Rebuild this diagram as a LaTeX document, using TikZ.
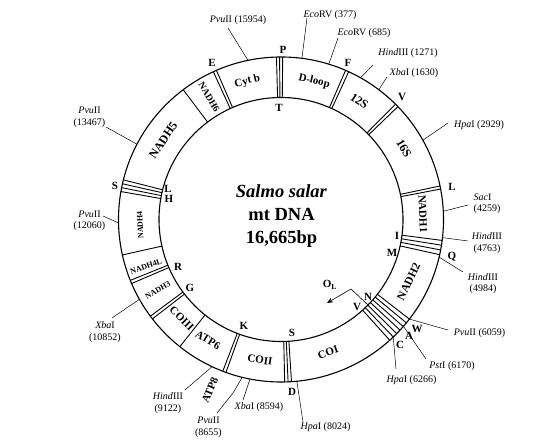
\documentclass[tikz,border=0pt]{standalone}
\usepackage{fontspec}
\setmainfont{Liberation Serif}
\usetikzlibrary{arrows.meta}

\begin{document}
\begin{tikzpicture}[x=1pt,y=1pt,>=Stealth,
  ring/.style={line width=1.1pt},
  bar/.style={line width=0.9pt},
  leader/.style={line width=0.5pt},
  gene/.style={font=\fontsize{11}{12}\selectfont\bfseries,inner sep=0pt},
  biggene/.style={font=\fontsize{12}{13}\selectfont\bfseries,inner sep=0pt},
  smallgene/.style={font=\fontsize{8}{9}\selectfont\bfseries,inner sep=0pt},
  trna/.style={font=\fontsize{11}{12}\selectfont\bfseries,inner sep=0pt},
  site/.style={font=\fontsize{10}{11.5}\selectfont,inner sep=0pt,align=center}]

\useasboundingbox (-281,-226.5) rectangle (275,219.5);
\def\rin{122}
\def\rout{162.5}
\coordinate (O) at (0,0);
\draw[ring] (O) circle[radius=\rout];
\draw[ring] (O) circle[radius=\rin];

\foreach \a in {89.4,90.5,91.6, 113.4,114.6, 127, 165.9,167.3,168.7,170.1, 192.6, 202,203.2, 216.5,217.7, 231.5, 249,250.2, 271.3,272.5,273.7, 312,313.7,315.4,317.1,318.8,320.5,322.2, 347.5,349.2,350.9,352.6, 10.8,11.9, 44,45.2, 65.4,66.6}
  \draw[bar] (\a:\rin) -- (\a:\rout);

\node[gene,rotate=13.7] (cytb) at (103.7:142) {Cyt b};
\node[gene,rotate=-13.5] (dloop) at (76.5:142) {D-loop};
\node[gene,font=\fontsize{9.5}{10}\selectfont\bfseries,rotate=-59.6] (nadh6) at (120.4:142) {NADH6};
\node[biggene,rotate=-33.5] (s12) at (56.5:142) {12S};
\node[biggene,rotate=-60] (s16) at (30:142) {16S};
\node[gene,rotate=-87.4] (nadh1) at (2.3:142) {NADH1};
\node[gene,font=\fontsize{11.5}{12}\selectfont\bfseries,rotate=64] (nadh2) at (334:142) {NADH2};
\node[gene,rotate=19.5] (coi) at (289.5:141) {COI};
\node[gene,rotate=-8.5] (coii) at (261.5:142) {COII};
\node[gene,rotate=-31.2] (atp6) at (238.8:141) {ATP6};
\node[gene,rotate=67.4] (atp8) at (247.4:185) {ATP8};
\node[gene,rotate=-45] (coiii) at (224.9:140) {COIII};
\node[smallgene,rotate=29.8] (nadh3) at (209.8:142) {NADH3};
\node[smallgene,rotate=19.3] (nadh4l) at (199.3:143) {NADH4L};
\node[smallgene,rotate=92.2] (nadh4) at (182.2:141) {NADH4};
\node[biggene,rotate=56] (nadh5) at (146:142) {NADH5};

\node[trna] (tp) at (2,169.5) {P};
\node[trna] (tt) at (-2,111.5) {T};
\node[trna] (te) at (-69,156.5) {E};
\node[trna] (tf) at (67,156.5) {F};
\node[trna] (tv) at (121,122.5) {V};
\node[trna] (tl) at (171,32.5) {L};
\node[trna] (ti) at (116,-16.5) {I};
\node[trna] (tm) at (111,-33.5) {M};
\node[trna] (tq) at (171,-37.5) {Q};
\node[trna] (tn) at (87,-77.5) {N};
\node[trna] (ty) at (76,-87.5) {V};
\node[trna] (tw) at (136,-109.5) {W};
\node[trna] (ta) at (128,-116.5) {A};
\node[trna] (tc) at (119,-125.5) {C};
\node[trna] (td) at (11,-172.5) {D};
\node[trna] (ts) at (11,-113.5) {S};
\node[trna] (tk) at (-37,-106.5) {K};
\node[trna] (tg) at (-91,-68.5) {G};
\node[trna] (tr) at (-103,-47.5) {R};
\node[trna] (ts2) at (-166,33.5) {S};
\node[trna] (tl2) at (-113,30.5) {L};
\node[trna] (th) at (-112,20.5) {H};

\node[font=\fontsize{18.5}{23}\selectfont\bfseries,align=center] (title) at (0.5,3) {\textit{Salmo salar}\\mt DNA\\16,665bp};

\node[trna] (ol) at (49,-65.5) {O\textsubscript{L}};
\coordinate (olbase) at (315.5:\rin);
\coordinate (olbend) at (70,-69.5);
\coordinate (oltip) at (46,-83.5);
\draw[line width=0.6pt,-{Stealth[length=6pt,width=5pt]}] (olbase) -- (olbend) -- (oltip);

\coordinate (r15954) at (101.7:\rout);
\coordinate (e15954) at (-53,191.5);
\node[site] (pvu15954) at (-43,199.5) {\textit{Pvu}II (15954)};
\draw[leader] (r15954) -- (e15954);

\coordinate (r377) at (82.6:\rout);
\coordinate (e377) at (26,201.5);
\node[site] (eco377) at (49,204.5) {\textit{Eco}RV (377)};
\draw[leader] (r377) -- (e377);

\coordinate (r685) at (72.9:\rout);
\coordinate (e685) at (57,181.5);
\node[site] (eco685) at (83,186.5) {\textit{Eco}RV (685)};
\draw[leader] (r685) -- (e685);

\coordinate (r1271) at (60.7:\rout);
\coordinate (e1271) at (92,154.5);
\node[site] (hin1271) at (127,166.5) {\textit{Hind}III (1271)};
\draw[leader] (r1271) -- (e1271);

\coordinate (r1630) at (53:\rout);
\coordinate (e1630) at (106,142.5);
\node[site] (xba1630) at (133,146.5) {\textit{Xba}I (1630)};
\draw[leader] (r1630) -- (e1630);

\coordinate (r2929) at (29.2:\rout);
\coordinate (e2929) at (167,96.5);
\node[site] (hpa2929) at (198,94.5) {\textit{Hpa}I (2929)};
\draw[leader] (r2929) -- (e2929);

\coordinate (r4259) at (2.9:\rout);
\coordinate (e4259) at (187,14.5);
\node[site,align=left] (sac4259) at (206,15.5) {\textit{Sac}I\\(4259)};
\draw[leader] (r4259) -- (e4259);

\coordinate (r4763) at (353.6:\rout);
\coordinate (e4763) at (187,-21.5);
\node[site] (hin4763) at (206,-23.5) {\textit{Hind}III\\(4763)};
\draw[leader] (r4763) -- (e4763);

\coordinate (r4984) at (346.6:\rout);
\coordinate (e4984) at (182,-52.5);
\node[site] (hin4984) at (202,-64) {\textit{Hind}III\\(4984)};
\draw[leader] (r4984) -- (e4984);

\coordinate (r6059) at (322.2:\rout);
\coordinate (e6059) at (167,-110.5);
\node[site] (pvu6059) at (198.5,-113.5) {\textit{Pvu}II (6059)};
\draw[leader] (r6059) -- (e6059);

\coordinate (r6170) at (318.9:\rout);
\coordinate (e6170) at (145,-139.5);
\node[site] (pst6170) at (171,-146.5) {\textit{Pst}I (6170)};
\draw[leader] (r6170) -- (e6170);

\coordinate (r6266) at (313.7:\rout);
\coordinate (e6266) at (115,-149.5);
\node[site] (hpa6266) at (130.5,-160.5) {\textit{Hpa}I (6266)};
\draw[leader] (r6266) -- (e6266);

\coordinate (r8024) at (275.6:\rout);
\coordinate (e8024) at (22,-202.5);
\node[site] (hpa8024) at (44.5,-207.5) {\textit{Hpa}I (8024)};
\draw[leader] (r8024) -- (e8024);

\coordinate (r8594) at (259:\rout);
\coordinate (e8594) at (-38,-180.5);
\node[site] (xba8594) at (-22,-187.5) {\textit{Xba}I (8594)};
\draw[leader] (r8594) -- (e8594);

\coordinate (r8655) at (256.2:\rout);
\coordinate (b8655) at (-48,-173.5);
\coordinate (e8655) at (-64,-193.5);
\node[site] (pvu8655) at (-72.5,-208) {\textit{Pvu}II\\(8655)};
\draw[leader] (r8655) -- (b8655) -- (e8655);

\coordinate (r9122) at (244.9:\rout);
\coordinate (e9122) at (-96,-170.5);
\node[site] (hin9122) at (-113,-183.5) {\textit{Hind}III\\(9122)};
\draw[leader] (r9122) -- (e9122);

\coordinate (r10852) at (209.4:\rout);
\coordinate (e10852) at (-169,-98.5);
\node[site] (xba10852) at (-176,-112.5) {\textit{Xba}I\\(10852)};
\draw[leader] (r10852) -- (e10852);

\coordinate (r12060) at (181.2:\rout);
\coordinate (e12060) at (-178,3.5);
\node[site] (pvu12060) at (-191.5,-1.5) {\textit{Pvu}II\\(12060)};
\draw[leader] (r12060) -- (e12060);

\coordinate (r13467) at (152.4:\rout);
\coordinate (e13467) at (-175,92.5);
\node[site] (pvu13467) at (-191.5,102) {\textit{Pvu}II\\(13467)};
\draw[leader] (r13467) -- (e13467);
\end{tikzpicture}
\end{document}
